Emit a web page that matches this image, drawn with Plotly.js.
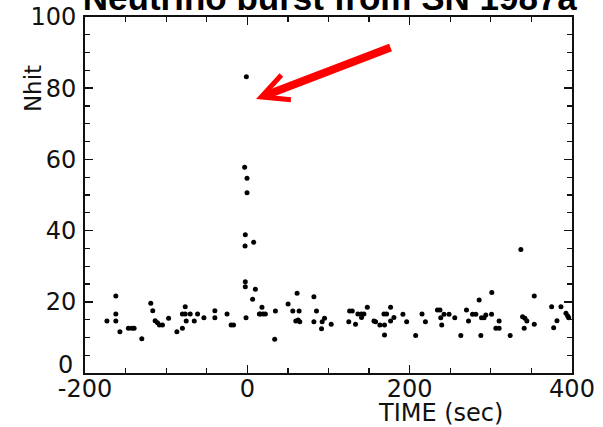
<!DOCTYPE html>
<html>
<head>
<meta charset="utf-8">
<script src="https://cdn.plot.ly/plotly-3.0.1.min.js"></script>
<style>html,body{margin:0;padding:0;background:#fff;}#chart{width:603px;height:427px;}</style>
</head>
<body>
<div id="chart"></div>
<script>
// Time of each event (sec) and its number of hit PMTs (Nhit)
var timeSec = [
  -173, -162, -162, -162, -157, -146.5, -142.3, -139.5, -130, -119, -116.5, -113.6, -110.7, -108.3, -104.6,
  -97, -86.8, -80, -76.5, -80, -76.5, -70.4, -75.3, -65.4, -61.3, -53.5, -40, -40, -25, -20, -17, -1.6,
  -1.2, -3.3, -0.4, -0.4, -2.5, -2.8, 7.8, -2.5, -2.5, 9.9, 6.5,
  14.8, 18, 16, 19.3, 22.2, 34.6, 33.7, 50.2, 56, 61.3, 63.8, 59.7, 62.6, 64.6,
  82, 85.2, 82, 92.2, 95.1, 91.4, 103.3, 126, 129.3, 125, 133.3, 136.2, 140.3, 143.6, 140.7, 147.8,
  156, 158, 163.3, 168.3, 171.6, 169, 169, 176.5, 176.5, 180.6, 191.7, 196.3, 207.4, 215.2, 219.4,
  234.2, 237.4, 238.3, 239.5, 242.3, 248.5, 255.6, 263, 270, 272.5, 277.4, 281.5, 285.6, 288.5, 291.7, 293.8,
  287.7, 301.2, 300.9, 306.2, 310.2, 310.2, 323.8, 337, 339.1, 342, 344.4, 341.1, 353.5, 353.5,
  374.9, 377.4, 381.5, 386.4, 392.6, 394.7, 395.9
];
var nhit = [
  14.6, 21.6, 16.6, 14.6, 11.6, 12.6, 12.6, 12.6, 9.6, 19.6, 17.5, 14.7, 14.1, 13.5, 13.5,
  15.4, 11.6, 12.6, 18.6, 16.6, 16.6, 16.6, 14.6, 14.6, 16.6, 15.5, 17.5, 15.5, 16.6, 13.5, 13.5, 15.5,
  83.2, 57.8, 54.7, 50.6, 38.8, 35.7, 36.7, 25.6, 24.2, 23.5, 20.7,
  16.6, 18.5, 16.6, 16.6, 16.6, 17.4, 9.5, 19.4, 17.4, 22.4, 17.4, 14.6, 14.9, 14.4,
  21.4, 17.4, 14.4, 14.4, 15.4, 12.4, 13.7, 17.4, 17.4, 14.4, 13.7, 16.6, 16.6, 16.6, 15.6, 18.5,
  14.6, 14.4, 13.5, 16.6, 16.6, 13.5, 10.7, 18.5, 14.6, 15.6, 16.5, 14.4, 10.5, 16.6, 14.4,
  17.7, 17.7, 15.5, 13.5, 16.5, 16.5, 15.5, 10.5, 17.7, 14.6, 16.5, 16.5, 20.5, 15.5, 15.5, 16.3,
  10.5, 22.6, 16.5, 12.6, 12.6, 14.6, 10.5, 34.7, 15.8, 15.4, 14.6, 12.6, 21.6, 13.7,
  18.6, 12.7, 14.7, 18.6, 16.8, 16.0, 15.5
];
var xTicks = [-200, 0, 200, 400];
var yTicks = [0, 20, 40, 60, 80, 100];
var titleText = "Neutrino burst from SN 1987a";
var xLabel = "TIME (sec)";
var yLabel = "Nhit";

var tickFont = {family: "DejaVu Sans", size: 24, color: "#111"};

var trace = {
  x: timeSec, y: nhit, type: "scatter", mode: "markers",
  marker: {color: "#000", size: 5}, hoverinfo: "skip"
};

var axisCommon = {
  showline: true, linewidth: 2, linecolor: "#111", mirror: "ticks",
  ticks: "inside", ticklen: 8, tickwidth: 1.5, tickcolor: "#111",
  showgrid: false, zeroline: false, tickfont: tickFont
};

// the bottom y label ("0") sits raised on the axis line in the original, so it is drawn as an annotation
var yTickText = yTicks.map(function (v) { return v === 0 ? "" : String(v); });

var layout = {
  width: 603, height: 427,
  margin: {l: 85, r: 31, t: 17, b: 54},
  paper_bgcolor: "#fff", plot_bgcolor: "#fff",
  showlegend: false,
  title: {
    text: "<b>" + titleText + "</b>",
    font: {family: "Liberation Sans, Arial", size: 35, color: "#000"},
    xref: "container", yref: "container", x: 0.547, xanchor: "center",
    y: 0.976, yanchor: "bottom"
  },
  xaxis: Object.assign({}, axisCommon, {
    range: [-200, 400], tickvals: xTicks, ticktext: xTicks.map(String),
    ticklabelstandoff: -7,
    minor: {dtick: 50, tick0: 0, ticks: "inside", ticklen: 5, tickwidth: 1.2, tickcolor: "#111"}
  }),
  yaxis: Object.assign({}, axisCommon, {
    range: [0, 100], tickvals: yTicks, ticktext: yTickText,
    ticklabelstandoff: 2,
    minor: {dtick: 5, tick0: 0, ticks: "inside", ticklen: 5, tickwidth: 1.2, tickcolor: "#111"}
  }),
  annotations: [
    {
      text: String(yTicks[0]), xref: "paper", yref: "y", x: -0.02, y: yTicks[0],
      xanchor: "right", yanchor: "bottom", showarrow: false, yshift: -8,
      font: tickFont
    },
    {
      text: xLabel, xref: "paper", yref: "paper", x: 0.73, y: -0.112,
      xanchor: "center", yanchor: "middle", showarrow: false,
      font: {family: "DejaVu Sans", size: 24, color: "#111"}
    },
    {
      text: yLabel, xref: "paper", yref: "paper", x: -0.107, y: 0.8,
      xanchor: "center", yanchor: "middle", textangle: -90, showarrow: false,
      font: {family: "DejaVu Sans", size: 23, color: "#111"}
    },
    {
      text: "", xref: "x", yref: "y", x: 10.7, y: 77,
      ax: 136, ay: -52, showarrow: true,
      arrowcolor: "#ff0000", arrowwidth: 8, arrowhead: 5, arrowsize: 0.65, standoff: 0
    }
  ]
};

Plotly.newPlot("chart", [trace], layout, {displayModeBar: false, staticPlot: true});
</script>
</body>
</html>
